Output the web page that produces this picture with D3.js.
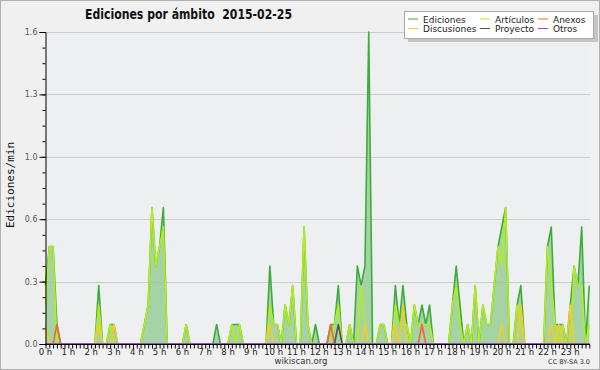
<!DOCTYPE html>
<html><head><meta charset="utf-8">
<script src="https://cdn.jsdelivr.net/npm/d3@7"></script>
<style>html,body{margin:0;padding:0;background:#f0f0f0}svg{display:block}text{white-space:pre}</style>
</head><body>
<svg id="c" width="600" height="370"></svg>
<script>
// ---- data (10-minute bins, edits/min) ----
const title = "Ediciones por ámbito  2015-02-25";
const yLabel = "Ediciones/min";
const hourLabels = d3.range(24).map(h => h + " h");
const seriesNames = ["Ediciones","Artículos","Anexos","Discusiones","Proyecto","Otros"];
const yTicks = [0, 0.32, 0.64, 0.96, 1.28, 1.6];
const nPoints = 144;
// non-zero values as [index, value]
const edicionesPts = [[0,0.3],[1,0.5],[2,0.5],[3,0.1],[14,0.3],[17,0.1],[18,0.1],[26,0.1],[27,0.2],[28,0.7],[29,0.4],[30,0.5],[31,0.7],[37,0.1],[45,0.1],[49,0.1],[50,0.1],[51,0.1],[59,0.4],[60,0.1],[61,0.1],[63,0.2],[64,0.1],[65,0.3],[68,0.6],[69,0.1],[71,0.1],[75,0.1],[76,0.1],[77,0.3],[80,0.1],[82,0.4],[83,0.3],[84,0.4],[85,1.6],[88,0.1],[89,0.1],[92,0.3],[93,0.1],[94,0.3],[95,0.1],[97,0.2],[98,0.1],[99,0.2],[100,0.1],[101,0.2],[107,0.2],[108,0.4],[109,0.2],[111,0.1],[113,0.3],[115,0.2],[116,0.1],[117,0.1],[118,0.3],[119,0.5],[120,0.6],[121,0.7],[124,0.2],[125,0.3],[132,0.5],[133,0.6],[134,0.1],[135,0.1],[136,0.1],[138,0.2],[139,0.4],[140,0.3],[141,0.6],[143,0.3]];
const articulosPts = [[0,0.2],[1,0.5],[2,0.5],[14,0.2],[17,0.1],[26,0.1],[27,0.2],[28,0.7],[29,0.4],[30,0.5],[31,0.6],[37,0.1],[49,0.1],[51,0.1],[59,0.2],[60,0.1],[61,0.1],[63,0.2],[64,0.1],[65,0.3],[68,0.6],[69,0.1],[76,0.1],[77,0.2],[80,0.1],[83,0.3],[84,0.1],[88,0.1],[89,0.1],[92,0.2],[93,0.1],[94,0.1],[95,0.1],[97,0.2],[98,0.1],[99,0.1],[100,0.1],[101,0.1],[107,0.2],[108,0.3],[109,0.1],[111,0.1],[113,0.3],[115,0.2],[116,0.1],[117,0.1],[118,0.3],[119,0.5],[120,0.4],[121,0.7],[124,0.2],[125,0.1],[132,0.5],[133,0.3],[134,0.1],[136,0.1],[139,0.4],[140,0.3],[141,0.3],[143,0.1]];
const anexosPts = [[3,0.1],[75,0.1],[99,0.1]];
const discusionesPts = [[0,0.1],[14,0.1],[18,0.1],[59,0.1],[84,0.1],[92,0.1],[94,0.2],[120,0.1],[125,0.2],[133,0.1],[135,0.1],[138,0.2]];
const proyectoPts = [[77,0.1]];
const otrosPts = [];

function expand(pts){ const a = new Array(nPoints).fill(0); pts.forEach(([i,v]) => a[i] = v); return a; }
const ediciones = expand(edicionesPts), articulos = expand(articulosPts), anexos = expand(anexosPts),
      discusiones = expand(discusionesPts), proyecto = expand(proyectoPts), otros = expand(otrosPts);

const colors = {Ediciones:"#3aad3a", "Artículos":"#b4ec1e", Anexos:"#ee6c2c", Discusiones:"#f4cc2a", Proyecto:"#555555", Otros:"#9544e8"};

const svg = d3.select("#c");
const W = 600, H = 370;
const x = d3.scaleLinear().domain([0, nPoints-1]).range([45.5, 589.3]);
const y = d3.scaleLinear().domain([0, 1.6]).range([344, 32]);

svg.append("rect").attr("x",0.5).attr("y",0.5).attr("width",W-1).attr("height",H-1)
   .attr("fill","#f0f0f0").attr("stroke","#b0b0b0");
svg.append("rect").attr("x",45.5).attr("y",32).attr("width",589.3-45.5).attr("height",312).attr("fill","#eeeff1");

// gridlines
svg.append("g").selectAll("line").data(yTicks.slice(1)).join("line")
  .attr("x1",45.5).attr("x2",590).attr("y1",d=>Math.round(y(d))+0.5).attr("y2",d=>Math.round(y(d))+0.5)
  .attr("stroke","#cdcdcd").attr("stroke-width",1);

// area under total
svg.append("path").datum(ediciones)
  .attr("d", d3.area().x((d,i)=>x(i)).y0(y(0)).y1(d=>y(d)))
  .attr("fill","#8cc98c").attr("fill-opacity",0.75);

const line = d3.line().x((d,i)=>x(i)).y(d=>y(d));
const seriesData = [["Ediciones",ediciones],["Artículos",articulos],["Anexos",anexos],["Discusiones",discusiones],["Proyecto",proyecto],["Otros",otros]];
seriesData.forEach(([name,data]) => {
  svg.append("path").datum(data).attr("d",line).attr("fill","none")
    .attr("stroke",colors[name]).attr("stroke-width",1.6).attr("stroke-linejoin","round");
});

// y axis
const yMinor = d3.range(0, 1.6001, 0.08);
const gy = svg.append("g").attr("transform","translate(45.5,0)");
gy.call(d3.axisLeft(y).tickValues(yMinor).tickSize(3).tickFormat(""));
gy.call(g => g.select(".domain").remove());
gy.selectAll("line").attr("stroke","#000");
const gy2 = svg.append("g").attr("transform","translate(45.5,0)")
  .call(d3.axisLeft(y).tickValues(yTicks).tickSize(6).tickFormat(d3.format(".1f")));
gy2.selectAll("text").attr("font-family","DejaVu Sans").attr("font-size",8).attr("fill","#555").attr("dx",1);
gy2.select(".domain").attr("stroke","#000");
gy2.selectAll("line").attr("stroke","#000");

// x axis
const gx = svg.append("g").attr("transform","translate(0,344.5)")
  .call(d3.axisBottom(x).tickValues(d3.range(0,nPoints)).tickSize(4).tickFormat(""));
gx.select(".domain").attr("stroke","#000").attr("d","M45.5,0H590");
gx.selectAll("line").attr("stroke","#000");
svg.append("g").selectAll("text").data(hourLabels).join("text")
  .attr("x",(d,i)=>x(i*6)).attr("y",355).attr("text-anchor","middle")
  .attr("font-family","DejaVu Sans").attr("font-size",8.5).attr("fill","#222").text(d=>d);

// title
svg.append("text").attr("x",85).attr("y",19).attr("font-family","DejaVu Sans").attr("font-weight","bold")
  .attr("font-size",13.5).attr("fill","#111")
  .attr("textLength",207).attr("lengthAdjust","spacingAndGlyphs").text(title);

// y label
svg.append("text").attr("transform","translate(14,185) rotate(-90)").attr("text-anchor","middle")
  .attr("font-family","DejaVu Sans Mono").attr("font-size",11).attr("fill","#111").text(yLabel);

// footer
svg.append("text").attr("x",301).attr("y",364).attr("text-anchor","middle")
  .attr("font-family","DejaVu Sans").attr("font-size",8.5).attr("fill","#333").text("wikiscan.org");
svg.append("text").attr("x",590).attr("y",364).attr("text-anchor","end")
  .attr("font-family","DejaVu Sans").attr("font-size",6.5).attr("fill","#333").text("CC BY-SA 3.0");

// legend
const lg = svg.append("g");
lg.append("rect").attr("x",408).attr("y",15).attr("width",190).attr("height",27).attr("fill","#c4c4c4");
lg.append("rect").attr("x",404.5).attr("y",11.5).attr("width",189).attr("height",27).attr("fill","#fff").attr("stroke","#a8a8a8");
const legPos = [[408,0],[480,0],[538,0],[408,1],[480,1],[538,1]];
const legOrder = ["Ediciones","Artículos","Anexos","Discusiones","Proyecto","Otros"];
legOrder.forEach((name,k) => {
  const [lx,row] = legPos[k];
  const ly = 19 + row*9.5;
  lg.append("line").attr("x1",lx).attr("x2",lx+10).attr("y1",ly).attr("y2",ly).attr("stroke",colors[name]).attr("stroke-width",1);
  lg.append("text").attr("x",lx+15).attr("y",ly+3.5).attr("font-family","DejaVu Sans").attr("font-size",9)
    .attr("fill","#222").text(name);
});
</script>
</body></html>
